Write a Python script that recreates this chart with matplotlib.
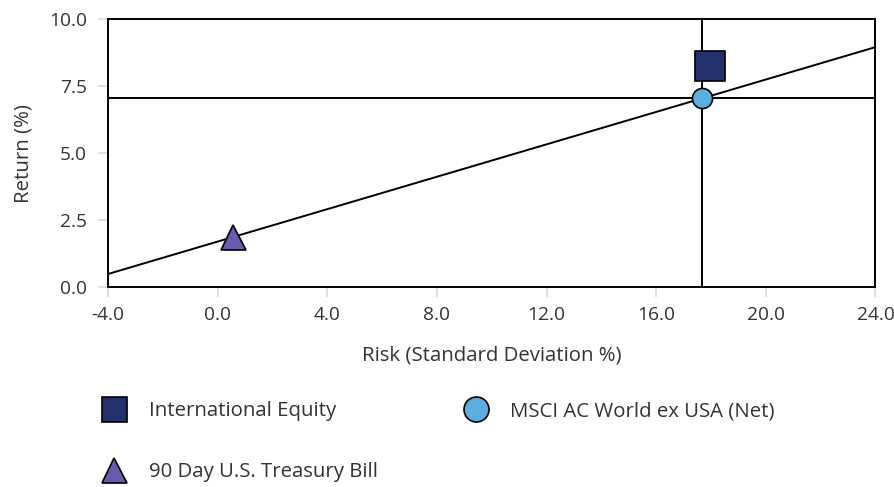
import numpy as np
import matplotlib
matplotlib.use("Agg")
import matplotlib.pyplot as plt
from matplotlib.lines import Line2D

# Risk / return data
names = ["International Equity", "MSCI AC World ex USA (Net)", "90 Day U.S. Treasury Bill"]
risk = [17.98, 17.67, 0.57]
ret = [8.25, 7.05, 1.87]
markers = ["s", "o", "^"]
colors = ["#22316B", "#5BAEE0", "#6A5AAD"]
marker_sizes = [21, 14.5, 18]

x_ticks = [-4.0, 0.0, 4.0, 8.0, 12.0, 16.0, 20.0, 24.0]
y_ticks = [0.0, 2.5, 5.0, 7.5, 10.0]

plt.rcParams["font.family"] = ["Open Sans", "DejaVu Sans"]
text_color = "#333333"
fs = 14.7

fig = plt.figure(figsize=(8.94, 4.87), dpi=100)
ax = fig.add_axes([0.1208, 0.4107, 0.8585, 0.5493])
ax.set_xlim(x_ticks[0], x_ticks[-1])
ax.set_ylim(y_ticks[0], y_ticks[-1])

# capital market line through risk free and benchmark
bench_x, bench_y = risk[1], ret[1]
rf_x, rf_y = risk[2], ret[2]
slope = (bench_y - rf_y) / (bench_x - rf_x)
xs = np.array([x_ticks[0], x_ticks[-1]])
ax.plot(xs, rf_y + slope * (xs - rf_x), color="black", lw=1.4, zorder=2)

# benchmark crosshair
ax.axvline(bench_x, color="black", lw=1.4, zorder=2)
ax.axhline(bench_y, color="black", lw=1.4, zorder=2)

handles = []
for n, x, y, m, c, s in zip(names, risk, ret, markers, colors, marker_sizes):
    ax.plot([x], [y], marker=m, ms=s, mfc=c, mec="black",
            mew=1.2, ls="none", zorder=4, clip_on=False)
    handles.append(Line2D([], [], marker=m, ms=18, mfc=c, mec="black", mew=1.2,
                          ls="none", label=n))

ax.set_xticks(x_ticks)
ax.set_xticklabels([f"{v:.1f}" for v in x_ticks])
ax.set_yticks(y_ticks)
ax.set_yticklabels([f"{v:.1f}" for v in y_ticks])
ax.tick_params(direction="out", length=7, width=1.2, color="#d9d9d9",
               labelsize=13.8, labelcolor=text_color)
ax.tick_params(axis="x", pad=7)
ax.tick_params(axis="y", pad=8)
for sp in ax.spines.values():
    sp.set_linewidth(1.4)
    sp.set_color("black")

ax.set_xlabel("Risk (Standard Deviation %)", fontsize=fs, color=text_color, labelpad=15)
ax.set_ylabel("Return (%)", fontsize=fs, color=text_color, labelpad=11)

# order so that rows read: Intl Equity, MSCI / T-Bill
leg = fig.legend(handles=[handles[0], handles[2], handles[1]], ncol=2,
                 loc="upper left", bbox_to_anchor=(0.091, 0.214), frameon=False,
                 fontsize=fs, labelcolor=text_color, handletextpad=1.0,
                 columnspacing=4.1, labelspacing=2.0, handlelength=1.4)

fig.savefig("out.png", dpi=100)
